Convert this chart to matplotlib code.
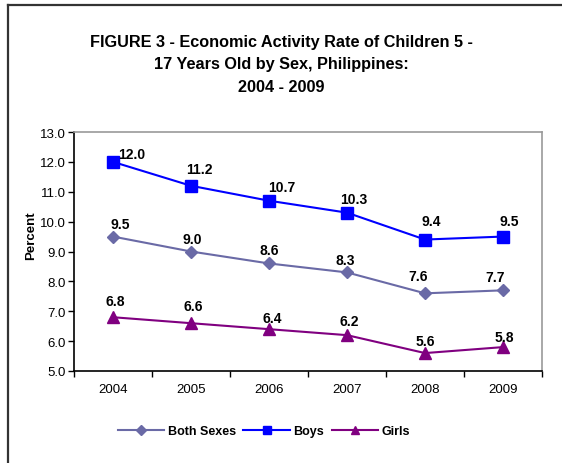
import matplotlib.pyplot as plt
from matplotlib.lines import Line2D

plt.rcParams['font.family'] = ['Liberation Sans', 'DejaVu Sans']

# Данные
years = ['2004', '2005', '2006', '2007', '2008', '2009']
both_sexes = [9.5, 9.0, 8.6, 8.3, 7.6, 7.7]
boys = [12.0, 11.2, 10.7, 10.3, 9.4, 9.5]
girls = [6.8, 6.6, 6.4, 6.2, 5.6, 5.8]
y_ticks = [5.0, 6.0, 7.0, 8.0, 9.0, 10.0, 11.0, 12.0, 13.0]

# Смещения подписей (в пикселях)
boys_dx, boys_dy = [19, 8, 13, 7, 6, 6], [8, 17, 14, 14, 19, 16]
both_dx, both_dy = [7, 1, 0, -2, -7, -8], [13, 13, 13, 12, 17, 13]
girls_dx, girls_dy = [2, 2, 3, 2, 0, 1], [16, 17, 11, 14, 12, 10]

fig = plt.figure(figsize=(5.62, 4.64), dpi=100)

# Рамка вокруг рисунка (видны только левая и верхняя стороны)
fig.add_artist(Line2D([7.5 / 562, 7.5 / 562], [0, 1 - 5.5 / 464], color='#333333', lw=1.6))
fig.add_artist(Line2D([7.5 / 562, 1], [1 - 5.5 / 464, 1 - 5.5 / 464], color='#333333', lw=1.6))

ax = fig.add_axes([74 / 562, 1 - 372 / 464, 468 / 562, 239 / 464])
x = list(range(len(years)))

ax.plot(x, both_sexes, color='#6A6AA6', lw=1.5, marker='D', ms=6, label='Both Sexes')
ax.plot(x, boys, color='#0000FF', lw=1.5, marker='s', ms=8, label='Boys')
ax.plot(x, girls, color='#800080', lw=1.5, marker='^', ms=8, label='Girls')

# Подписи значений
for vals, dxs, dys in [(boys, boys_dx, boys_dy), (both_sexes, both_dx, both_dy), (girls, girls_dx, girls_dy)]:
    for i in x:
        ax.annotate(f'{vals[i]:.1f}', (i, vals[i]), xytext=(dxs[i], dys[i]), textcoords='offset pixels',
                    ha='center', va='center', fontsize=10, fontweight='bold')

ax.set_xlim(-0.5, 5.5)
ax.set_ylim(5.0, 13.0)
ax.set_yticks(y_ticks)
ax.set_yticklabels([f'{v:.1f}' for v in y_ticks], fontsize=9.5)
ax.set_xticks(x)
ax.set_xticklabels(years, fontsize=9.5)
ax.set_xticks([i - 0.5 for i in range(len(years) + 1)], minor=True)
ax.tick_params(axis='x', which='major', length=0, pad=9)
ax.tick_params(axis='x', which='minor', length=4, direction='out', width=1)
ax.tick_params(axis='y', length=4, direction='out', width=1, pad=2)

for side in ['top', 'right']:
    ax.spines[side].set_color('#999999')
    ax.spines[side].set_linewidth(1.2)
for side in ['left', 'bottom']:
    ax.spines[side].set_color('black')
    ax.spines[side].set_linewidth(1.2)

ax.set_ylabel('Percent', fontsize=9.5, fontweight='bold')
ax.yaxis.set_label_coords(-0.078, 0.57)

fig.text(0.5, 1 - 42 / 464, 'FIGURE 3 - Economic Activity Rate of Children 5 -',
         ha='center', va='center', fontsize=11.7, fontweight='bold')
fig.text(0.5, 1 - 64 / 464, '17 Years Old by Sex, Philippines:',
         ha='center', va='center', fontsize=11.7, fontweight='bold')
fig.text(0.5, 1 - 87 / 464, '2004 - 2009',
         ha='center', va='center', fontsize=11.7, fontweight='bold')

fig.legend(loc='center', bbox_to_anchor=(264 / 562, 1 - 432 / 464), ncol=3, frameon=False,
           prop={'size': 9, 'weight': 'bold'}, handlelength=3.7, handletextpad=0.3,
           columnspacing=0.6, markerscale=0.8)

fig.savefig('out.png', dpi=100)
